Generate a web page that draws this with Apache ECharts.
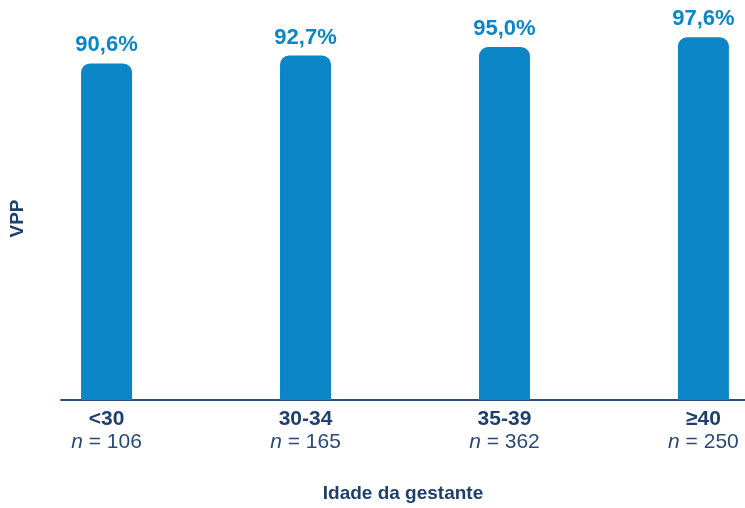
<!DOCTYPE html>
<html>
<head>
<meta charset="utf-8">
<script src="https://cdn.jsdelivr.net/npm/echarts@6/dist/echarts.min.js"></script>
<style>html,body{margin:0;padding:0;background:#fff}#c{width:745px;height:508px}</style>
</head>
<body>
<div id="c"></div>
<script>
const categories = ['<30', '30-34', '35-39', '≥40'];
const sampleSizes = [106, 165, 362, 250];
const vppValues = [90.6, 92.7, 95.0, 97.6];
const xTitle = 'Idade da gestante';
const yTitle = 'VPP';

const blue = '#0d86c8';
const navy = '#1f3f6c';
const font = '"Liberation Sans", Arial, Helvetica, sans-serif';

const chart = echarts.init(document.getElementById('c'), null, {renderer: 'canvas'});
chart.setOption({
  animation: false,
  backgroundColor: '#fff',
  grid: {left: 59, right: 0, top: 37, bottom: 103, containLabel: false},
  xAxis: {
    type: 'value',
    min: -0.229,
    max: 3.209,
    name: xTitle,
    nameLocation: 'middle',
    nameGap: 84,
    nameTextStyle: {color: navy, fontSize: 19, fontWeight: 'bold', fontFamily: font},
    axisLine: {show: true, onZero: false, lineStyle: {color: '#2d4f7c', width: 2}},
    axisTick: {show: false},
    splitLine: {show: false},
    axisLabel: {
      customValues: [0, 1, 2, 3],
      margin: 8,
      formatter: function (v) {
        const i = Math.round(v);
        return '{c|' + categories[i] + '}\n{ni|n}{n| = ' + sampleSizes[i] + '}';
      },
      rich: {
        c: {fontSize: 21, fontWeight: 'bold', color: navy, fontFamily: font, lineHeight: 23},
        ni: {fontSize: 21, fontStyle: 'italic', fontWeight: 300, color: '#2c4a75', fontFamily: font, lineHeight: 23},
        n: {fontSize: 21, fontWeight: 300, color: '#2c4a75', fontFamily: font, lineHeight: 23}
      }
    }
  },
  yAxis: {
    type: 'value',
    min: 0,
    max: 97.7,
    name: yTitle,
    nameLocation: 'middle',
    nameGap: 34,
    nameRotate: 90,
    nameTextStyle: {color: navy, fontSize: 19, fontWeight: 'bold', fontFamily: font},
    axisLine: {show: false},
    axisTick: {show: false},
    axisLabel: {show: false},
    splitLine: {show: false}
  },
  series: [{
    type: 'bar',
    barWidth: 51,
    data: vppValues.map((v, i) => [i, v]),
    itemStyle: {color: blue, borderRadius: [9, 9, 0, 0]},
    label: {
      show: true,
      position: 'top',
      distance: 7,
      color: blue,
      fontSize: 22,
      fontWeight: 'bold',
      fontFamily: font,
      formatter: p => p.value[1].toFixed(1).replace('.', ',') + '%'
    }
  }]
});
</script>
</body>
</html>
